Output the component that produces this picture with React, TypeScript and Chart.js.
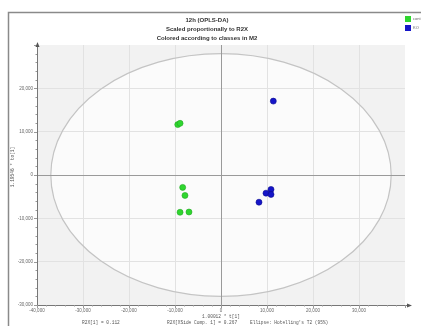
import React, { useEffect, useRef } from "react";
import { Chart, registerables } from "chart.js";

Chart.register(...registerables);

const titleLines = ["12h (OPLS-DA)", "Scaled proportionally to R2X", "Colored according to classes in M2"];
const seriesNames = ["cont", "KO"];
const contX = [-9400, -8900, -8330, -7830, -8900, -6960];
const contY = [11630, 11930, -2860, -4720, -8600, -8540];
const koX = [11370, 10870, 9780, 10870, 8260];
const koY = [17050, -3330, -4190, -4490, -6280];
const xTicks = [-40000, -30000, -20000, -10000, 0, 10000, 20000, 30000];
const yTicks = [-30000, -20000, -10000, 0, 10000, 20000];
const ellipseRadii = [37000, 28000];
const xAxisTitle = "1.00012 * t[1]";
const yAxisTitle = "1.19546 * to[1]";
const footer = ["R2X[1] = 0.112", "R2X[XSide Comp. 1] = 0.267", "Ellipse: Hotelling's T2 (95%)"];

const GREEN = "#2fd62f";
const BLUE = "#1515c8";

function fmt(v: number) {
  const s = Math.abs(v).toString().replace(/\B(?=(\d{3})+(?!\d))/g, ",");
  return (v < 0 ? "-" : "") + s;
}

const decor = {
  id: "decor",
  beforeDraw(chart: any) {
    const { ctx, chartArea: a, scales } = chart;
    const x = scales.x, y = scales.y;
    ctx.save();
    // frame
    ctx.strokeStyle = "#8a8a8a";
    ctx.lineWidth = 1.5;
    ctx.beginPath();
    ctx.moveTo(8.5, 326);
    ctx.lineTo(8.5, 12.5);
    ctx.lineTo(421, 12.5);
    ctx.stroke();
    // plot bg
    ctx.fillStyle = "#f2f2f2";
    ctx.fillRect(a.left, a.top, a.right - a.left, a.bottom - a.top);
    // ellipse fill
    const cx = x.getPixelForValue(0), cy = y.getPixelForValue(0);
    const rx = x.getPixelForValue(ellipseRadii[0]) - cx;
    const ry = cy - y.getPixelForValue(ellipseRadii[1]);
    ctx.fillStyle = "#fbfbfb";
    ctx.beginPath();
    ctx.ellipse(cx, cy, rx, ry, 0, 0, Math.PI * 2);
    ctx.fill();
    ctx.restore();
  },
  beforeDatasetsDraw(chart: any) {
    const { ctx, chartArea: a, scales } = chart;
    const x = scales.x, y = scales.y;
    ctx.save();
    const cx = x.getPixelForValue(0), cy = y.getPixelForValue(0);
    const rx = x.getPixelForValue(ellipseRadii[0]) - cx;
    const ry = cy - y.getPixelForValue(ellipseRadii[1]);
    ctx.strokeStyle = "#c4c4c4";
    ctx.lineWidth = 1.2;
    ctx.beginPath();
    ctx.ellipse(cx, cy, rx, ry, 0, 0, Math.PI * 2);
    ctx.stroke();
    // zero lines
    ctx.strokeStyle = "#9a9a9a";
    ctx.lineWidth = 1;
    ctx.beginPath();
    ctx.moveTo(Math.round(cx) + 0.5, a.top);
    ctx.lineTo(Math.round(cx) + 0.5, a.bottom);
    ctx.moveTo(a.left, Math.round(cy) + 0.5);
    ctx.lineTo(a.right, Math.round(cy) + 0.5);
    ctx.stroke();
    // axes
    ctx.strokeStyle = "#777";
    ctx.beginPath();
    ctx.moveTo(a.left + 0.5, a.top - 2);
    ctx.lineTo(a.left + 0.5, a.bottom + 0.5);
    ctx.lineTo(a.right + 5, a.bottom + 0.5);
    ctx.stroke();
    // minor ticks
    ctx.strokeStyle = "#999";
    ctx.beginPath();
    for (let v = -40000; v <= 40000; v += 2000) {
      const px = Math.round(x.getPixelForValue(v)) + 0.5;
      const len = v % 10000 === 0 ? 3 : 1.5;
      ctx.moveTo(px, a.bottom);
      ctx.lineTo(px, a.bottom + len);
    }
    for (let v = -30000; v <= 30000; v += 2000) {
      const py = Math.round(y.getPixelForValue(v)) + 0.5;
      const len = v % 10000 === 0 ? 3 : 1.5;
      ctx.moveTo(a.left, py);
      ctx.lineTo(a.left - len, py);
    }
    ctx.stroke();
    // arrows
    ctx.fillStyle = "#555";
    ctx.beginPath();
    ctx.moveTo(a.right + 7, a.bottom + 0.5);
    ctx.lineTo(a.right + 2, a.bottom - 1.5);
    ctx.lineTo(a.right + 2, a.bottom + 2.5);
    ctx.fill();
    ctx.beginPath();
    ctx.moveTo(a.left + 0.5, a.top - 3);
    ctx.lineTo(a.left - 1.5, a.top + 2);
    ctx.lineTo(a.left + 2.5, a.top + 2);
    ctx.fill();
    ctx.restore();
  },
  afterDraw(chart: any) {
    const { ctx, chartArea: a, scales } = chart;
    const x = scales.x;
    ctx.save();
    // titles
    ctx.fillStyle = "#333";
    ctx.textAlign = "center";
    ctx.textBaseline = "middle";
    ctx.font = "bold 6px 'Liberation Sans', Arial, sans-serif";
    const ty = [20, 29, 38];
    titleLines.forEach((t, i) => ctx.fillText(t, 207, ty[i]));
    // legend
    const colors = [GREEN, BLUE];
    ctx.textAlign = "left";
    ctx.font = "4px 'Liberation Sans', Arial, sans-serif";
    seriesNames.forEach((n, i) => {
      const ly = 16 + i * 9;
      ctx.fillStyle = colors[i];
      ctx.fillRect(405, ly, 6, 6);
      ctx.fillStyle = "#666";
      ctx.fillText(n, 413, ly + 3);
    });
    // axis titles
    ctx.fillStyle = "#555";
    ctx.textAlign = "center";
    ctx.font = "4.5px 'Liberation Mono', monospace";
    ctx.fillText(xAxisTitle, x.getPixelForValue(0), 317);
    ctx.save();
    ctx.translate(13, 167);
    ctx.rotate(-Math.PI / 2);
    ctx.fillText(yAxisTitle, 0, 0);
    ctx.restore();
    // footer
    ctx.textAlign = "left";
    const fx = [82, 167, 250];
    footer.forEach((t, i) => ctx.fillText(t, fx[i], 323));
    ctx.restore();
  },
};

export default function App() {
  const ref = useRef<HTMLCanvasElement | null>(null);
  useEffect(() => {
    document.body.style.margin = "0";
    const canvas = ref.current!;
    const chart = new Chart(canvas, {
      type: "scatter",
      data: {
        datasets: [
          {
            label: seriesNames[0],
            data: contX.map((v, i) => ({ x: v, y: contY[i] })),
            backgroundColor: GREEN,
            borderColor: "#22a822",
            borderWidth: 0.6,
            pointRadius: 3,
          },
          {
            label: seriesNames[1],
            data: koX.map((v, i) => ({ x: v, y: koY[i] })),
            backgroundColor: BLUE,
            borderColor: "#0c0c90",
            borderWidth: 0.6,
            pointRadius: 3,
          },
        ],
      },
      options: {
        responsive: false,
        animation: false,
        layout: { padding: { left: 0, top: 45, right: 16, bottom: 0 } },
        plugins: { legend: { display: false }, tooltip: { enabled: false }, title: { display: false } },
        scales: {
          x: {
            type: "linear",
            min: -40000,
            max: 40000,
            afterBuildTicks: (s: any) => { s.ticks = xTicks.map((v) => ({ value: v })); },
            afterFit: (s: any) => { s.height = 21; },
            grid: { color: "#e2e2e2", drawTicks: false, lineWidth: 1 },
            border: { display: false },
            ticks: {
              padding: 3,
              color: "#666",
              font: { size: 4.5, family: "'Liberation Sans', Arial, sans-serif" },
              maxRotation: 0,
              autoSkip: false,
              callback: (v: any) => fmt(Number(v)),
            },
          },
          y: {
            type: "linear",
            min: -30000,
            max: 30000,
            afterBuildTicks: (s: any) => { s.ticks = yTicks.map((v) => ({ value: v })); },
            afterFit: (s: any) => { s.width = 37; },
            grid: { color: "#e2e2e2", drawTicks: false, lineWidth: 1 },
            border: { display: false },
            ticks: {
              padding: 4,
              color: "#666",
              font: { size: 4.5, family: "'Liberation Sans', Arial, sans-serif" },
              autoSkip: false,
              callback: (v: any) => fmt(Number(v)),
            },
          },
        },
      },
      plugins: [decor],
    } as any);
    return () => chart.destroy();
  }, []);
  return <canvas ref={ref} width={421} height={326} style={{ display: "block" }} />;
}
